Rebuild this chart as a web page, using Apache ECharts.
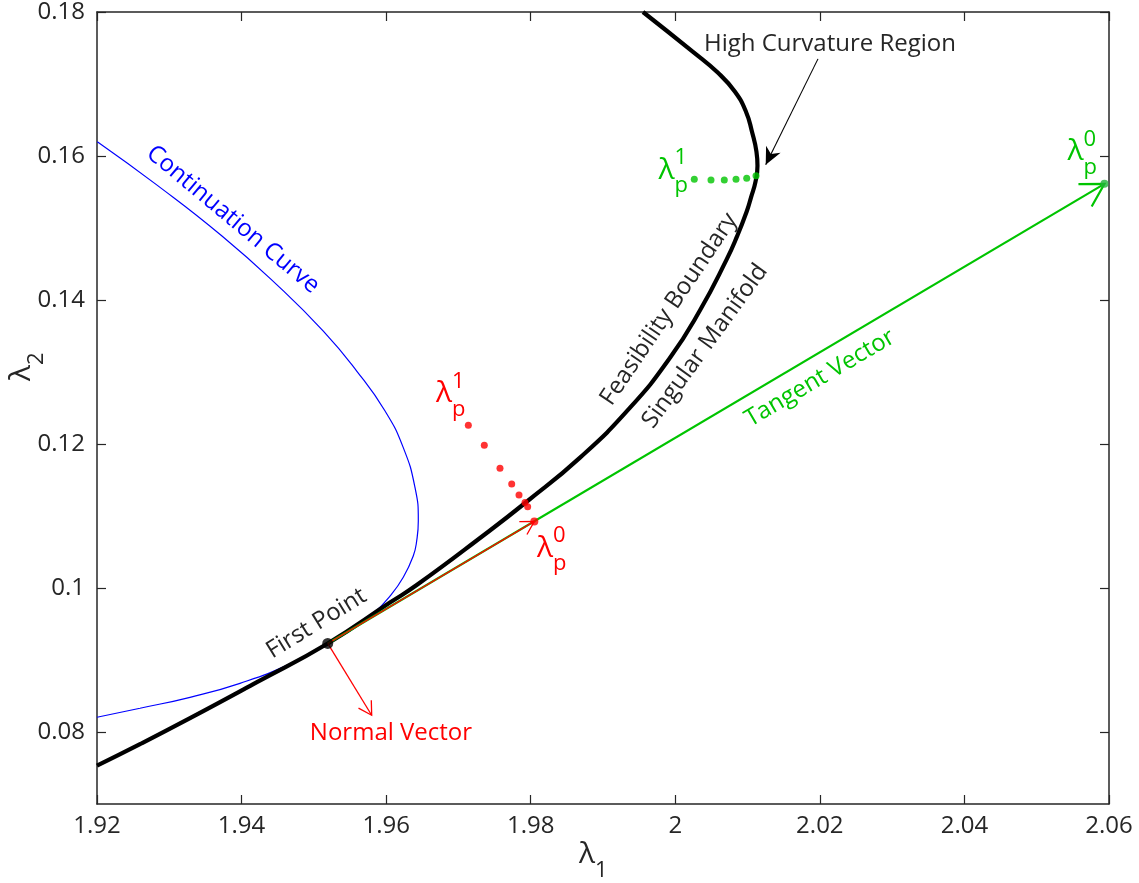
<!DOCTYPE html>
<html>
<head>
<meta charset="utf-8">
<script src="https://cdn.jsdelivr.net/npm/echarts@6/dist/echarts.min.js"></script>
<style>
html,body{margin:0;padding:0;background:#ffffff;}
#c{width:1139px;height:883px;}
</style>
</head>
<body>
<div id="c"></div>
<script>
// ---------------- data ----------------
const xTicks = [1.92, 1.94, 1.96, 1.98, 2.00, 2.02, 2.04, 2.06];
const yTicks = [0.08, 0.10, 0.12, 0.14, 0.16, 0.18];

// Feasibility boundary / singular manifold (black)
const feasX = [1.92000, 1.92595, 1.93287, 1.94213, 1.95192, 1.96053, 1.96423, 1.97340, 1.97944, 1.98682,
               1.99374, 1.99927, 2.00342, 2.00711, 2.00854, 2.00988, 2.01047, 2.01110, 2.01137, 2.01123,
               2.01061, 2.00978, 2.00826, 2.00591, 2.00245, 1.99553];
const feasY = [0.07533, 0.07831, 0.08192, 0.08692, 0.09230, 0.09798, 0.10041, 0.10726, 0.11198, 0.11811,
               0.12504, 0.13197, 0.13857, 0.14564, 0.14883, 0.15229, 0.15423, 0.15644, 0.15866, 0.16060,
               0.16337, 0.16615, 0.16892, 0.17155, 0.17446, 0.18000];

// Continuation curve (blue)
const contX = [1.92004, 1.92826, 1.93729, 1.94486, 1.95131, 1.95593, 1.95985, 1.96237, 1.96399, 1.96445,
               1.96423, 1.96376, 1.96237, 1.96053, 1.95822, 1.95638, 1.95192, 1.94670, 1.93978, 1.93287,
               1.92595, 1.92000];
const contY = [0.16199, 0.15599, 0.14889, 0.14214, 0.13567, 0.13013, 0.12458, 0.11950, 0.11396, 0.10934,
               0.10657, 0.10449, 0.10149, 0.09888, 0.09642, 0.09507, 0.09237, 0.08946, 0.08676, 0.08482,
               0.08330, 0.08205];

// Points
const firstPoint = [1.95192, 0.09230];
const redTangentTip = [1.98050, 0.10925];   // lambda_p^0 (red)
const normalTip = [1.95800, 0.08233];
const tangentTip = [2.05937, 0.15613];      // lambda_p^0 (green)
const curvArrowStart = [2.01974, 0.17349];
const curvArrowTip = [2.01251, 0.15880];

// Red dotted correction path (lambda_p^1 -> boundary)
const redDotsX = [1.97137, 1.97358, 1.97575, 1.97737, 1.97838, 1.97921, 1.97958];
const redDotsY = [0.12260, 0.11983, 0.11664, 0.11443, 0.11290, 0.11188, 0.11128];

// Green dotted correction path
const greenDotsX = [2.00263, 2.00494, 2.00678, 2.00840, 2.00988, 2.01117];
const greenDotsY = [0.15677, 0.15668, 0.15668, 0.15677, 0.15691, 0.15724];

// ---------------- chart ----------------
const FONT = '"Open Sans", "Noto Sans", sans-serif';
const DARK = '#262626';
const RED = '#ff0000';
const GREEN = '#00c400';
const BLUE = '#0000ff';
const zip = (xs, ys) => xs.map((x, i) => [x, ys[i]]);
const fmt = v => String(parseFloat(Number(v).toFixed(4)));

const axisLineStyle = { color: DARK, width: 1.5 };
const tickStyle = { inside: true, length: 9, lineStyle: { color: DARK, width: 1.2 } };

// arrowhead styles: 0 red open, 1 green open, 2 black filled
const headStyles = [
  { color: RED, len: 15, half: Math.PI / 6, lw: 1.3, filled: false },
  { color: GREEN, len: 26, half: Math.PI / 6, lw: 2.2, filled: false },
  { color: '#000000', len: 19, half: 0.44, lw: 1, filled: true }
];
const arrowData = [
  [firstPoint[0], firstPoint[1], normalTip[0], normalTip[1], 0],
  [firstPoint[0], firstPoint[1], redTangentTip[0], redTangentTip[1], 0],
  [firstPoint[0], firstPoint[1], tangentTip[0], tangentTip[1], 1],
  [curvArrowStart[0], curvArrowStart[1], curvArrowTip[0], curvArrowTip[1], 2]
];

const chart = echarts.init(document.getElementById('c'));

const option = {
  animation: false,
  backgroundColor: '#ffffff',
  grid: { left: 97, right: 30, top: 10, bottom: 79, containLabel: false },
  xAxis: [
    {
      type: 'value', min: 1.92, max: 2.06, interval: 0.02,
      axisLine: { show: true, onZero: false, lineStyle: axisLineStyle },
      axisTick: tickStyle,
      axisLabel: { fontFamily: FONT, fontSize: 24, color: DARK, margin: 10, formatter: fmt,
                   showMinLabel: true, showMaxLabel: true },
      splitLine: { show: false }
    },
    {
      type: 'value', position: 'top', min: 1.92, max: 2.06, interval: 0.02,
      axisLine: { show: true, onZero: false, lineStyle: axisLineStyle },
      axisTick: tickStyle,
      axisLabel: { show: false },
      splitLine: { show: false }
    }
  ],
  yAxis: [
    {
      type: 'value', min: 0.07, max: 0.18,
      axisLine: { show: true, onZero: false, lineStyle: axisLineStyle },
      axisTick: Object.assign({ customValues: yTicks }, tickStyle),
      axisLabel: { customValues: yTicks, fontFamily: FONT, fontSize: 24, color: DARK, margin: 12, formatter: fmt },
      splitLine: { show: false }
    },
    {
      type: 'value', position: 'right', min: 0.07, max: 0.18,
      axisLine: { show: true, onZero: false, lineStyle: axisLineStyle },
      axisTick: Object.assign({ customValues: yTicks }, tickStyle),
      axisLabel: { show: false, customValues: yTicks },
      splitLine: { show: false }
    }
  ],
  series: [
    { name: 'Continuation Curve', type: 'line', data: zip(contX, contY), smooth: 0.5, showSymbol: false,
      lineStyle: { color: BLUE, width: 1.2 }, z: 2 },
    { name: 'Feasibility Boundary', type: 'line', data: zip(feasX, feasY), smooth: 0.5, showSymbol: false,
      lineStyle: { color: '#000000', width: 4.2 }, z: 3 },
    { name: 'Tangent Vector', type: 'line', data: [firstPoint, tangentTip], showSymbol: false,
      lineStyle: { color: GREEN, width: 2.2 }, z: 4 },
    { name: 'Red Tangent', type: 'line', data: [firstPoint, redTangentTip], showSymbol: false,
      lineStyle: { color: RED, width: 1.3 }, z: 5 },
    { name: 'Normal Vector', type: 'line', data: [firstPoint, normalTip], showSymbol: false,
      lineStyle: { color: RED, width: 1.3 }, z: 5 },
    { name: 'Curvature Arrow', type: 'line', data: [curvArrowStart, curvArrowTip], showSymbol: false,
      lineStyle: { color: '#000000', width: 1.1 }, z: 5 },
    {
      name: 'Heads', type: 'custom', z: 6, clip: false,
      data: arrowData,
      renderItem: function (params, api) {
        const a = api.coord([api.value(0), api.value(1)]);
        const b = api.coord([api.value(2), api.value(3)]);
        const s = headStyles[api.value(4)];
        const ang = Math.atan2(a[1] - b[1], a[0] - b[0]);
        const w1 = [b[0] + s.len * Math.cos(ang + s.half), b[1] + s.len * Math.sin(ang + s.half)];
        const w2 = [b[0] + s.len * Math.cos(ang - s.half), b[1] + s.len * Math.sin(ang - s.half)];
        if (s.filled) {
          const n = [b[0] + s.len * 0.62 * Math.cos(ang), b[1] + s.len * 0.62 * Math.sin(ang)];
          return { type: 'polygon', shape: { points: [b, w1, n, w2] }, style: { fill: s.color } };
        }
        return { type: 'polyline', shape: { points: [w1, b, w2] },
                 style: { stroke: s.color, lineWidth: s.lw, fill: null } };
      }
    },
    { name: 'Red dots', type: 'scatter', data: zip(redDotsX, redDotsY), symbolSize: 7,
      itemStyle: { color: RED }, z: 7 },
    { name: 'Green dots', type: 'scatter', data: zip(greenDotsX, greenDotsY), symbolSize: 7,
      itemStyle: { color: GREEN }, z: 7 },
    { name: 'Red tip', type: 'scatter', data: [redTangentTip], symbolSize: 8, itemStyle: { color: RED }, z: 7 },
    { name: 'Green tip', type: 'scatter', data: [tangentTip], symbolSize: 8, itemStyle: { color: '#22b33a' }, z: 7 },
    { name: 'First Point', type: 'scatter', data: [firstPoint], symbolSize: 11, itemStyle: { color: '#000000' }, z: 8 }
  ]
};
chart.setOption(option);

// ---------------- annotations (anchored in data coordinates) ----------------
const plainLabels = [
  { text: 'Continuation Curve', at: [1.93881, 0.15118], rot: -39.8, color: BLUE },
  { text: 'High Curvature Region', at: [2.02140, 0.17557], rot: 0, color: DARK },
  { text: 'Feasibility Boundary', at: [1.99913, 0.13871], rot: 56, color: DARK },
  { text: 'Singular Manifold', at: [2.00411, 0.13359], rot: 54, color: DARK },
  { text: 'Tangent Vector', at: [2.02002, 0.12915], rot: 30.4, color: GREEN },
  { text: 'First Point', at: [1.95037, 0.09507], rot: 31.6, color: DARK },
  { text: 'Normal Vector', at: [1.96067, 0.07983], rot: 0, color: RED }
];
const lambdaLabels = [
  { sup: '1', sub: 'p', at: [1.96800, 0.12700], color: RED, rot: 0 },
  { sup: '0', sub: 'p', at: [1.98198, 0.10553], color: RED, rot: 0 },
  { sup: '1', sub: 'p', at: [1.99878, 0.15804], color: GREEN, rot: 0 },
  { sup: '0', sub: 'p', at: [2.05537, 0.16060], color: GREEN, rot: 0 },
  { sup: '', sub: '1', at: [1.98779, 0.06293], color: DARK, rot: 0 },
  { sup: '', sub: '2', at: [1.90949, 0.12985], color: DARK, rot: 90 }
];

const graphics = [];
plainLabels.forEach(l => {
  const p = chart.convertToPixel({ gridIndex: 0 }, l.at);
  graphics.push({
    type: 'text', x: p[0], y: p[1], rotation: l.rot * Math.PI / 180, z: 100,
    style: { text: l.text, fill: l.color, font: '24px ' + FONT, align: 'center', verticalAlign: 'middle' }
  });
});
lambdaLabels.forEach(l => {
  const p = chart.convertToPixel({ gridIndex: 0 }, l.at);
  const children = [
    { type: 'text', x: 0, y: 0, style: { text: 'λ', fill: l.color, font: '30px ' + FONT, align: 'center', verticalAlign: 'middle' } }
  ];
  if (l.sup) children.push({ type: 'text', x: 8, y: -12,
    style: { text: l.sup, fill: l.color, font: '22px ' + FONT, align: 'left', verticalAlign: 'middle' } });
  if (l.sub) children.push({ type: 'text', x: 8, y: 16,
    style: { text: l.sub, fill: l.color, font: '22px ' + FONT, align: 'left', verticalAlign: 'middle' } });
  graphics.push({ type: 'group', x: p[0], y: p[1], rotation: l.rot * Math.PI / 180, z: 100, children: children });
});
chart.setOption({ graphic: graphics });
</script>
</body>
</html>
